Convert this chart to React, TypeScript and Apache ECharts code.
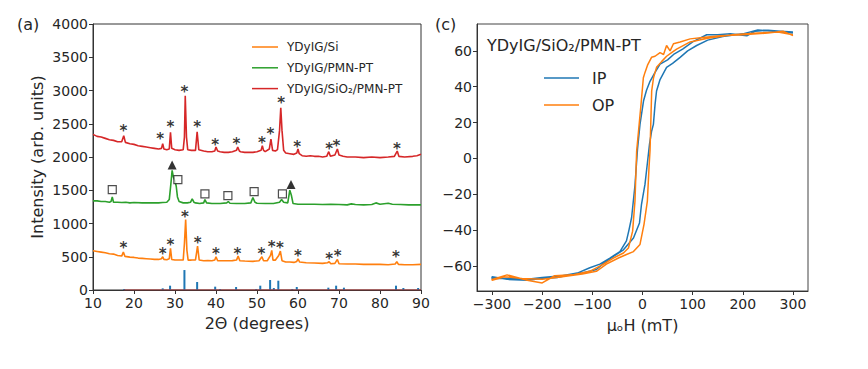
import React, { useEffect, useRef } from 'react';
import * as echarts from 'echarts';

// ---------- (a) XRD data: [2Θ (deg), intensity] ----------
const xrdSi: number[][] = [
  [10, 590], [11, 580], [12, 570], [13, 560], [14, 545], [15, 540], [16, 520], [17, 510], [17.4, 570], [17.8, 505],
  [19, 495], [20, 490], [21, 480], [22, 475], [23, 470], [24, 465], [25, 460], [26, 460], [26.7, 470], [27, 500],
  [27.3, 460], [28, 455], [28.6, 470], [28.9, 625], [29.2, 460], [30, 450], [31, 452], [32, 450], [32.3, 700], [32.6, 1060],
  [32.9, 600], [33.2, 450], [34, 450], [35, 452], [35.5, 660], [35.9, 450], [37, 440], [38, 442], [39, 440], [39.7, 450],
  [40, 500], [40.4, 440], [42, 440], [44, 442], [45, 450], [45.4, 510], [45.8, 440], [47, 435], [49, 430], [50.5, 440],
  [51.2, 500], [51.6, 440], [52.5, 440], [53.3, 520], [53.6, 595], [53.9, 450], [54.5, 450], [55.3, 520], [55.7, 585], [56.1, 440],
  [57, 420], [58, 420], [59, 415], [59.7, 430], [60, 470], [60.4, 420], [62, 410], [64, 405], [66, 400], [67.2, 410],
  [67.6, 425], [68, 395], [69, 400], [69.6, 460], [70, 395], [72, 390], [74, 390], [76, 385], [78, 385], [80, 385],
  [82, 380], [83.7, 390], [84.1, 425], [84.5, 385], [86, 380], [88, 380], [90, 385],
];
const xrdPmn: number[][] = [
  [10, 1340], [11, 1340], [12, 1330], [13, 1330], [14, 1320], [14.4, 1330], [14.7, 1400], [15, 1320], [16, 1320], [17, 1315],
  [18, 1320], [19, 1310], [20, 1315], [22, 1310], [24, 1310], [26, 1310], [27, 1315], [28, 1320], [28.6, 1360], [29.0, 1600],
  [29.3, 1800], [29.6, 1700], [30.0, 1640], [30.3, 1560], [30.6, 1400], [31, 1330], [32, 1310], [33, 1310], [33.8, 1320], [34.2, 1370],
  [34.6, 1320], [35, 1310], [36, 1300], [37, 1310], [37.3, 1360], [37.7, 1310], [39, 1300], [41, 1300], [42.6, 1310], [43, 1330],
  [43.4, 1305], [45, 1300], [47, 1300], [48.5, 1310], [49, 1390], [49.5, 1320], [50, 1305], [52, 1300], [54, 1300], [55.5, 1320],
  [56, 1360], [56.5, 1320], [57.5, 1310], [58, 1500], [58.4, 1420], [58.8, 1300], [60, 1290], [62, 1290], [64, 1290], [66, 1285],
  [68, 1290], [70, 1285], [72, 1280], [73, 1295], [74, 1285], [76, 1280], [78, 1285], [79, 1310], [80, 1290], [82, 1305],
  [83, 1290], [85, 1285], [87, 1280], [90, 1280],
];
const xrdSiO2: number[][] = [
  [10, 2340], [11, 2310], [12, 2300], [13, 2280], [14, 2260], [15, 2250], [16, 2230], [17, 2230], [17.5, 2320], [17.9, 2220],
  [19, 2200], [20, 2190], [21, 2170], [22, 2160], [23, 2150], [24, 2140], [25, 2130], [26, 2120], [26.7, 2130], [27.0, 2200],
  [27.3, 2120], [28, 2110], [28.6, 2120], [28.9, 2370], [29.2, 2130], [30, 2110], [31, 2100], [32, 2110], [32.3, 2300], [32.5, 2920],
  [32.8, 2300], [33.1, 2110], [34, 2100], [35, 2100], [35.4, 2380], [35.8, 2110], [37, 2090], [38, 2080], [39, 2080], [39.7, 2090],
  [40, 2150], [40.4, 2090], [41, 2080], [42, 2070], [43, 2070], [44, 2080], [45, 2100], [45.3, 2150], [45.7, 2090], [46, 2080],
  [47, 2070], [48, 2070], [49, 2070], [50, 2080], [51, 2100], [51.3, 2170], [51.6, 2100], [52, 2080], [53, 2120], [53.4, 2270],
  [53.8, 2100], [54.5, 2090], [55, 2110], [55.5, 2400], [55.8, 2740], [56.1, 2400], [56.5, 2100], [57, 2060], [58, 2050], [59, 2040],
  [59.7, 2060], [60, 2120], [60.3, 2050], [61, 2020], [62, 2010], [63, 2020], [64, 2010], [65, 2010], [66, 2000], [67, 2010],
  [67.5, 2080], [67.9, 2010], [69, 2030], [69.6, 2120], [70, 2030], [71, 2010], [72, 2000], [74, 2000], [76, 1990], [78, 2000],
  [80, 1990], [82, 2000], [83.5, 2010], [84.2, 2090], [84.6, 2010], [86, 2000], [88, 2010], [89, 2020], [90, 2040],
];
const refSticks: number[][] = [
  [17.6, 15], [27.0, 25], [28.8, 65], [32.3, 300], [35.4, 120], [39.8, 50], [41.0, 15], [44.9, 45], [49.8, 15], [50.8, 65],
  [53.2, 150], [54.1, 30], [55.2, 140], [58.6, 15], [59.7, 45], [67.4, 35], [69.3, 65], [71.2, 35], [83.9, 65], [85.7, 30], [89.3, 30],
];
const refBase: number[][] = [[17.5, 0], [90, 0]];
const starsSiO2: number[][] = [
  [17.4, 2431], [26.4, 2316], [28.9, 2491], [32.3, 3022], [35.4, 2491], [39.8, 2230], [45.0, 2240], [51.2, 2255], [53.3, 2390],
  [55.9, 2857], [59.8, 2195], [67.6, 2165], [69.4, 2205], [84.1, 2170],
];
const starsSi: number[][] = [
  [17.4, 670], [27.0, 585], [28.9, 720], [32.4, 1150], [35.5, 745], [40.0, 585], [45.2, 585], [51.1, 585], [53.6, 685],
  [55.6, 670], [60.0, 550], [67.6, 510], [69.7, 550], [83.9, 535],
];
const squaresPmn: number[][] = [[14.7, 1510], [30.7, 1660], [37.3, 1445], [42.9, 1420], [49.3, 1480], [56.2, 1445]];
const trianglesPmn: number[][] = [[29.3, 1879], [58.3, 1585]];

// ---------- (c) hysteresis loops: [μ0H (mT), M] ----------
const ipLoop: number[][] = [
  [300, 70.5], [275, 71], [250, 71.5], [225, 71], [208, 68.4], [175, 69.5], [150, 69], [128, 69], [100, 65], [80, 61],
  [62, 58], [50, 55], [35, 52.6], [25, 48], [15, 43], [8, 38], [2, 32], [-5, 19], [-10, 5], [-15, -15],
  [-21.7, -33], [-27, -40], [-32, -46], [-45, -52], [-65, -55.6], [-85, -59], [-105, -61], [-130, -64], [-160, -65.5], [-200, -66.5],
  [-230, -67.5], [-260, -67], [-300, -67],
  [-300, -66], [-270, -67.5], [-230, -68], [-200, -67], [-170, -66.5], [-145, -65], [-120, -64], [-92, -62], [-75, -58], [-58, -54.7],
  [-38, -51], [-18, -44.4], [-6, -36], [-2, -25.6], [5, -14.4], [10, -2], [14, 8], [18, 15], [21.7, 19], [25, 30],
  [28, 37.6], [35, 44], [48, 50.8], [60, 53], [75, 56.4], [90, 60], [108, 63], [130, 66], [160, 68], [200, 69.5],
  [230, 71.7], [260, 71], [300, 70],
];
const opLoop: number[][] = [
  [300, 68.5], [280, 71], [250, 70], [200, 69], [155, 68.5], [120, 67.5], [95, 66.7], [75, 65], [61.7, 64], [55, 60],
  [48, 63], [42, 58], [35, 59], [25, 57], [18, 56.4], [10, 52], [5, 48], [1.7, 45], [-3, 30], [-8, 15],
  [-11.7, 4], [-15, -23.8], [-19.7, -40.6], [-28, -50], [-38, -52.8], [-58, -55.6], [-78, -59], [-105, -63], [-140, -65], [-175, -65.5],
  [-200, -69.5], [-230, -68], [-270, -65], [-300, -67.5],
  [-300, -68], [-275, -66], [-240, -67], [-200, -67.5], [-160, -66], [-120, -64.5], [-92, -63], [-72, -59], [-48, -55.6], [-32, -53.6],
  [-18, -52], [-5, -48], [3, -36.8], [9.7, -23.8], [13, -5], [15, 4.3], [18.3, 37.6], [22, 45], [28, 50.8], [38, 54],
  [48, 57], [58, 59], [68, 61], [95, 65], [130, 67], [180, 69], [230, 70], [270, 70.5], [300, 69],
];

const xrdXTicks = { min: 10, max: 90, interval: 10 };
const xrdYTicks = { min: 0, max: 4000, interval: 500 };
const hTicks = [-300, -200, -100, 0, 100, 200, 300];
const mTicks = [-60, -40, -20, 0, 20, 40, 60];

const FONT = 'DejaVu Sans';
const C_ORANGE = '#ff7f0e';
const C_GREEN = '#2ca02c';
const C_RED = '#d62728';
const C_BLUE = '#1f77b4';
const TXT = '#262626';

const fmtMinus = (v: number) => (v < 0 ? '\u2212' + Math.abs(v) : String(v));
const fmtPlain = (v: number) => String(v);

export default function App() {
  const ref = useRef<HTMLDivElement>(null);
  useEffect(() => {
    if (!ref.current) return;
    const chart = echarts.init(ref.current, undefined, { renderer: 'svg' });
    const axisCommon = {
      axisLine: { show: true, onZero: false, lineStyle: { color: '#333', width: 1 } },
      axisTick: { show: true, inside: false, length: 4, lineStyle: { color: '#333' } },
      splitLine: { show: false },
      axisLabel: { color: TXT, fontSize: 14, fontFamily: FONT, margin: 5, formatter: fmtPlain },
      nameTextStyle: { color: TXT, fontSize: 16, fontFamily: FONT },
    };
    const starLabel = {
      show: true,
      position: 'inside',
      formatter: '*',
      color: '#000',
      fontSize: 15,
      fontWeight: 'bold',
      fontFamily: FONT,
      offset: [0, 3],
    };
    const option: any = {
      animation: false,
      backgroundColor: '#fff',
      textStyle: { fontFamily: FONT },
      grid: [
        { left: 93, top: 24, width: 328, height: 266, show: true, borderColor: '#333', borderWidth: 1, backgroundColor: 'transparent' },
        { left: 477, top: 24, width: 331, height: 267, show: true, borderColor: '#444', borderWidth: 1, backgroundColor: 'transparent' },
      ],
      xAxis: [
        {
          ...axisCommon,
          gridIndex: 0,
          type: 'value',
          position: 'bottom',
          min: xrdXTicks.min,
          max: xrdXTicks.max,
          interval: xrdXTicks.interval,
          axisLabel: { ...axisCommon.axisLabel, margin: 6 },
          name: '2\u0398 (degrees)',
          nameLocation: 'middle',
          nameGap: 25,
        },
        {
          ...axisCommon,
          gridIndex: 1,
          type: 'value',
          position: 'bottom',
          min: -330,
          max: 330,
          axisLabel: { ...axisCommon.axisLabel, margin: 6, customValues: hTicks, formatter: fmtMinus },
          axisTick: { ...axisCommon.axisTick, customValues: hTicks },
          name: '\u03bc\u2092H (mT)',
          nameLocation: 'middle',
          nameGap: 26,
        },
      ],
      yAxis: [
        {
          ...axisCommon,
          gridIndex: 0,
          type: 'value',
          position: 'left',
          min: xrdYTicks.min,
          max: xrdYTicks.max,
          interval: xrdYTicks.interval,
          name: 'Intensity (arb. units)',
          nameLocation: 'middle',
          nameGap: 48,
        },
        {
          ...axisCommon,
          gridIndex: 1,
          type: 'value',
          position: 'left',
          min: -74,
          max: 75,
          axisLabel: { ...axisCommon.axisLabel, customValues: mTicks, formatter: fmtMinus },
          axisTick: { ...axisCommon.axisTick, customValues: mTicks },
        },
      ],
      legend: [
        {
          data: ['YDyIG/Si', 'YDyIG/PMN-PT', 'YDyIG/SiO\u2082/PMN-PT'],
          orient: 'vertical',
          left: 247,
          top: 35,
          icon: 'rect',
          itemWidth: 26,
          itemHeight: 1.5,
          itemGap: 6.8,
          selectedMode: false,
          textStyle: { color: TXT, fontSize: 12, fontFamily: FONT, lineHeight: 14, padding: [0, 0, 0, 4] },
        },
        {
          data: ['IP', 'OP'],
          orient: 'vertical',
          left: 539,
          top: 64,
          icon: 'rect',
          itemWidth: 35,
          itemHeight: 1.5,
          itemGap: 9,
          selectedMode: false,
          textStyle: { color: TXT, fontSize: 16, fontFamily: FONT, lineHeight: 18, padding: [0, 0, 0, 8] },
        },
      ],
      graphic: [
        { type: 'text', left: 17, top: 16, style: { text: '(a)', fontSize: 16, fontFamily: FONT, fill: TXT } },
        { type: 'text', left: 435, top: 16, style: { text: '(c)', fontSize: 16, fontFamily: FONT, fill: TXT } },
        { type: 'text', left: 487, top: 37, style: { text: 'YDyIG/SiO\u2082/PMN-PT', fontSize: 16, fontFamily: FONT, fill: TXT } },
      ],
      series: [
        {
          name: 'YDyIG/Si', type: 'line', xAxisIndex: 0, yAxisIndex: 0, data: xrdSi,
          showSymbol: false, symbol: 'none', lineStyle: { color: C_ORANGE, width: 1.6 }, itemStyle: { color: C_ORANGE },
        },
        {
          name: 'YDyIG/PMN-PT', type: 'line', xAxisIndex: 0, yAxisIndex: 0, data: xrdPmn,
          showSymbol: false, symbol: 'none', lineStyle: { color: C_GREEN, width: 1.6 }, itemStyle: { color: C_GREEN },
        },
        {
          name: 'YDyIG/SiO\u2082/PMN-PT', type: 'line', xAxisIndex: 0, yAxisIndex: 0, data: xrdSiO2,
          showSymbol: false, symbol: 'none', lineStyle: { color: C_RED, width: 1.6 }, itemStyle: { color: C_RED },
        },
        {
          name: 'ref', type: 'bar', xAxisIndex: 0, yAxisIndex: 0, data: refSticks, barWidth: 2,
          itemStyle: { color: C_BLUE },
        },
        {
          name: 'refBase', type: 'line', xAxisIndex: 0, yAxisIndex: 0, data: refBase,
          showSymbol: false, symbol: 'none', lineStyle: { color: '#b03030', width: 1.2 },
        },
        {
          name: 'starsSiO2', type: 'scatter', xAxisIndex: 0, yAxisIndex: 0, data: starsSiO2, symbolSize: 1,
          itemStyle: { color: 'rgba(0,0,0,0)' }, label: starLabel, z: 5,
        },
        {
          name: 'starsSi', type: 'scatter', xAxisIndex: 0, yAxisIndex: 0, data: starsSi, symbolSize: 1,
          itemStyle: { color: 'rgba(0,0,0,0)' }, label: starLabel, z: 5,
        },
        {
          name: 'squares', type: 'scatter', xAxisIndex: 0, yAxisIndex: 0, data: squaresPmn, symbol: 'rect', symbolSize: 8,
          itemStyle: { color: '#fff', borderColor: '#222', borderWidth: 1.2 }, z: 5,
        },
        {
          name: 'triangles', type: 'scatter', xAxisIndex: 0, yAxisIndex: 0, data: trianglesPmn, symbol: 'triangle', symbolSize: 9,
          itemStyle: { color: '#000' }, z: 5,
        },
        {
          name: 'IP', type: 'line', xAxisIndex: 1, yAxisIndex: 1, data: ipLoop,
          showSymbol: false, symbol: 'none', lineStyle: { color: C_BLUE, width: 1.5 }, itemStyle: { color: C_BLUE },
        },
        {
          name: 'OP', type: 'line', xAxisIndex: 1, yAxisIndex: 1, data: opLoop,
          showSymbol: false, symbol: 'none', lineStyle: { color: C_ORANGE, width: 1.5 }, itemStyle: { color: C_ORANGE },
        },
      ],
    };
    chart.setOption(option);
    return () => chart.dispose();
  }, []);
  return (
    <div
      ref={ref}
      style={{ position: 'fixed', left: 0, top: 0, width: 868, height: 369, background: '#fff' }}
    />
  );
}
